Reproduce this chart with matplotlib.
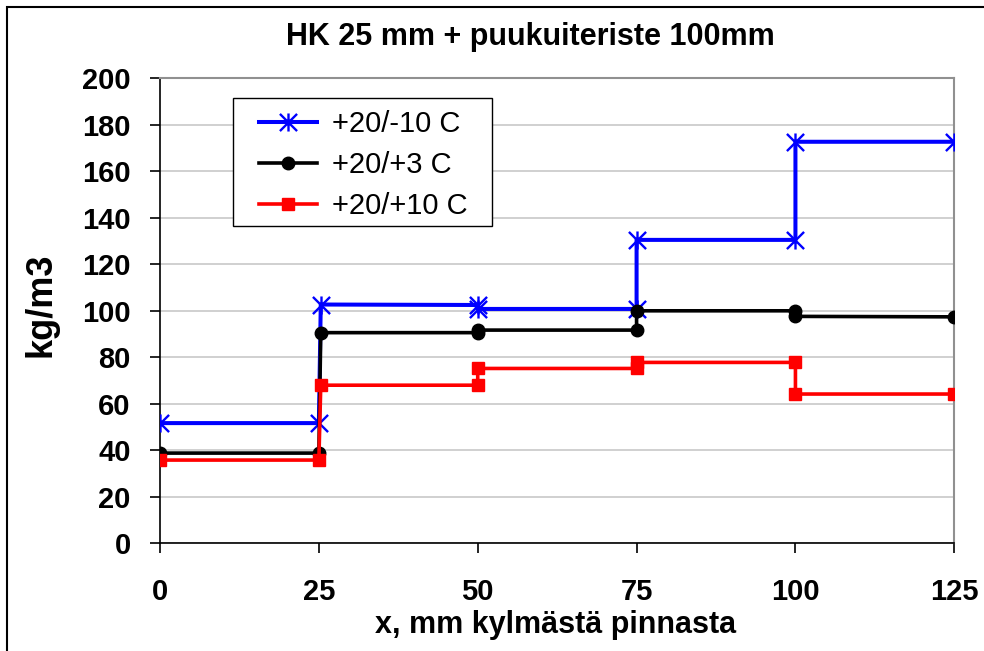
import matplotlib
matplotlib.use("Agg")
import matplotlib.pyplot as plt
from matplotlib.path import Path
from matplotlib.patches import Rectangle

plt.rcParams['font.family'] = ['Liberation Sans', 'DejaVu Sans']

title = "HK 25 mm + puukuiteriste 100mm"
xlabel = "x, mm kylmästä pinnasta"
ylabel = "kg/m3"

x_ticks = [0, 25, 50, 75, 100, 125]
y_ticks = [0, 20, 40, 60, 80, 100, 120, 140, 160, 180, 200]

labels = ["+20/-10 C", "+20/+3 C", "+20/+10 C"]

x_cold = [0, 25, 25.3, 50, 50, 75, 75, 100, 100, 125]
y_cold = [51.7, 51.7, 102.7, 102.5, 100.8, 100.8, 130.5, 130.5, 172.7, 172.7]

x_mid = [0, 25, 25.3, 50, 50, 75, 75, 100, 100, 125]
y_mid = [38.8, 38.8, 90.6, 90.6, 91.7, 91.7, 100.0, 100.0, 97.6, 97.4]

x_warm = [0, 25, 25.3, 50, 50, 75, 75, 100, 100, 125]
y_warm = [35.8, 35.8, 68.0, 68.0, 75.2, 75.2, 77.8, 77.8, 64.2, 64.2]

# Excel-style asterisk: an "x" crossed by a vertical bar
asterisk = Path(
    [(0, -1), (0, 1), (-0.95, -0.95), (0.95, 0.95), (-0.95, 0.95), (0.95, -0.95)],
    [Path.MOVETO, Path.LINETO, Path.MOVETO, Path.LINETO, Path.MOVETO, Path.LINETO],
)

W, H = 984, 651
fig = plt.figure(figsize=(W / 100, H / 100), dpi=100)
fig.patches.append(Rectangle((7 / W, -0.1), 1.1, 1 - 7 / H + 0.1,
                             transform=fig.transFigure, fill=False,
                             edgecolor='black', linewidth=1.5, zorder=0))

ax = fig.add_axes([160 / W, 1 - 543.3 / H, (954.3 - 160) / W, (543.3 - 78.3) / H])

ax.plot(x_cold, y_cold, color='#0000ff', lw=2.9, marker=asterisk, ms=13,
        mew=1.7, fillstyle='none', label=labels[0], zorder=3)
ax.plot(x_mid, y_mid, color='black', lw=2.6, marker='o', ms=9,
        label=labels[1], zorder=3)
ax.plot(x_warm, y_warm, color='#ff0000', lw=2.6, marker='s', ms=9,
        label=labels[2], zorder=3)

ax.set_xlim(0, 125)
ax.set_ylim(0, 200)
ax.set_xticks(x_ticks)
ax.set_yticks(y_ticks)
ax.grid(axis='y', color='#c8c8c8', lw=1.2, zorder=0)
ax.set_axisbelow(True)

for s in ('left', 'bottom'):
    ax.spines[s].set_color('black')
    ax.spines[s].set_linewidth(1.2)
for s in ('top', 'right'):
    ax.spines[s].set_color('#909090')
    ax.spines[s].set_linewidth(1.5)

ax.tick_params(axis='both', direction='out', length=7, width=1.2, color='black',
               labelsize=21)
ax.tick_params(axis='x', pad=18)
ax.tick_params(axis='y', pad=14)
for t in ax.get_xticklabels() + ax.get_yticklabels():
    t.set_fontweight('bold')

fig.text(556 / W, 1 - 633 / H, xlabel, ha='center', va='baseline',
         fontsize=22, fontweight='bold')
fig.text(41 / W, 1 - 305 / H, ylabel, ha='center', va='center', rotation=90,
         fontsize=26, fontweight='bold')
fig.text(530 / W, 1 - 44.5 / H, title, ha='center', va='baseline',
         fontsize=22, fontweight='bold')

# legend entries without their own frame; the box is drawn separately
leg = ax.legend(loc='upper left',
                bbox_to_anchor=(259 / W, 1 - 110 / H),
                bbox_transform=fig.transFigure,
                fontsize=21, frameon=False,
                handlelength=2.0, handletextpad=0.5, borderpad=0,
                labelspacing=0.45, borderaxespad=0)
leg.set_zorder(5)
ax.add_patch(Rectangle((233 / W, 1 - 226 / H), (492 - 233) / W, (226 - 98) / H,
                       transform=fig.transFigure, facecolor='white',
                       edgecolor='black', linewidth=1.0, zorder=4))

fig.savefig("out.png", dpi=100)
